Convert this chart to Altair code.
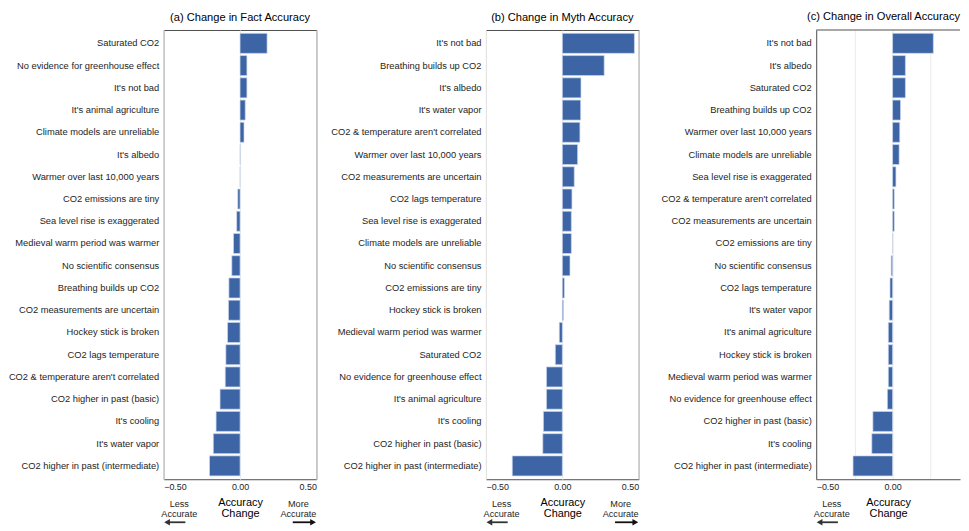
import altair as alt
import pandas as pd

FONT = "Liberation Sans"

# ---------------- data ----------------
fact_cats = [
    "Saturated CO2", "No evidence for greenhouse effect", "It's not bad",
    "It's animal agriculture", "Climate models are unreliable", "It's albedo",
    "Warmer over last 10,000 years", "CO2 emissions are tiny",
    "Sea level rise is exaggerated", "Medieval warm period was warmer",
    "No scientific consensus", "Breathing builds up CO2",
    "CO2 measurements are uncertain", "Hockey stick is broken",
    "CO2 lags temperature", "CO2 & temperature aren't correlated",
    "CO2 higher in past (basic)", "It's cooling", "It's water vapor",
    "CO2 higher in past (intermediate)",
]
fact_vals = [0.177, 0.045, 0.045, 0.034, 0.026, 0.001, 0.000, -0.015, -0.022,
             -0.043, -0.054, -0.073, -0.076, -0.082, -0.093, -0.097, -0.131,
             -0.157, -0.175, -0.200]

myth_cats = [
    "It's not bad", "Breathing builds up CO2", "It's albedo", "It's water vapor",
    "CO2 & temperature aren't correlated", "Warmer over last 10,000 years",
    "CO2 measurements are uncertain", "CO2 lags temperature",
    "Sea level rise is exaggerated", "Climate models are unreliable",
    "No scientific consensus", "CO2 emissions are tiny", "Hockey stick is broken",
    "Medieval warm period was warmer", "Saturated CO2",
    "No evidence for greenhouse effect", "It's animal agriculture", "It's cooling",
    "CO2 higher in past (basic)", "CO2 higher in past (intermediate)",
]
myth_vals = [0.472, 0.274, 0.122, 0.120, 0.115, 0.100, 0.078, 0.063, 0.059,
             0.059, 0.050, 0.013, 0.007, -0.020, -0.046, -0.104, -0.104,
             -0.124, -0.128, -0.328]

overall_cats = [
    "It's not bad", "It's albedo", "Saturated CO2", "Breathing builds up CO2",
    "Warmer over last 10,000 years", "Climate models are unreliable",
    "Sea level rise is exaggerated", "CO2 & temperature aren't correlated",
    "CO2 measurements are uncertain", "CO2 emissions are tiny",
    "No scientific consensus", "CO2 lags temperature", "It's water vapor",
    "It's animal agriculture", "Hockey stick is broken",
    "Medieval warm period was warmer", "No evidence for greenhouse effect",
    "CO2 higher in past (basic)", "It's cooling",
    "CO2 higher in past (intermediate)",
]
overall_vals = [0.267, 0.084, 0.084, 0.052, 0.047, 0.043, 0.022, 0.011, 0.011,
                0.001, -0.009, -0.017, -0.022, -0.028, -0.028, -0.028, -0.034,
                -0.129, -0.136, -0.259]

titles = ["(a) Change in Fact Accuracy", "(b) Change in Myth Accuracy",
          "(c) Change in Overall Accuracy"]
grid_values = [-0.5, -0.375, -0.25, -0.125, 0.0, 0.125, 0.25, 0.375, 0.5]
label_values = [-0.5, 0.0, 0.5]

# ---------------- layout / style ----------------
W = 154            # pixels for a full [-0.5, 0.5] panel
H = 453
BAR = "#3d65a5"
INK = "#1e1e1e"
FRAME = "#4d4d4d"
SMALL = 9.2        # "Less / More Accurate" font size


def panel(title, cats, vals, extent, width=W, cut=False):
    xmax = -0.5 + width / W
    gvals = [v for v in grid_values if v <= xmax + 1e-9]
    df = pd.DataFrame({"category": cats, "change": vals})
    bars = alt.Chart(df).mark_bar(
        color=BAR, stroke="#cdd8ec", strokeWidth=0.7
    ).encode(
        x=alt.X(
            "change:Q",
            scale=alt.Scale(domain=[-0.5, xmax], nice=False),
            axis=alt.Axis(
                values=gvals,
                format=".2f",
                labelExpr="indexof(" + str(label_values) + ", datum.value) >= 0 ? datum.label : ''",
                labelFlush=True,
                ticks=False,
                domain=cut,
                domainColor=FRAME,
                labelFontSize=9,
                labelPadding=3,
                labelColor=INK,
                title=["Accuracy", "Change"],
                titleFontSize=11,
                titleFontWeight="normal",
                titleColor="black",
                titleLineHeight=11.7,
                titlePadding=5,
            ),
        ),
        y=alt.Y(
            "category:N",
            sort=cats,
            scale=alt.Scale(paddingInner=0.1, paddingOuter=0.15),
            axis=alt.Axis(
                title=None,
                ticks=False,
                domain=cut,
                domainColor=FRAME,
                labelFontSize=9.4,
                labelPadding=5,
                labelColor=INK,
                labelLimit=0,
                minExtent=extent,
                maxExtent=extent,
            ),
        ),
        tooltip=["category", "change"],
    )

    blank = alt.Data(values=[{}])
    layers = [bars]
    layers.append(alt.Chart(blank).mark_text(
        text=["Less", "Accurate"], font=FONT, fontSize=SMALL, lineHeight=SMALL,
        baseline="top", align="center", color=INK
    ).encode(x=alt.datum(-0.398), y=alt.value(H + 21.5)))
    layers.append(alt.Chart(blank).mark_rule(color="#333", strokeWidth=1.8).encode(
        x=alt.datum(-0.47), x2=alt.datum(-0.358), y=alt.value(H + 43.4)))
    layers.append(alt.Chart(blank).mark_point(
        shape="triangle-left", filled=True, size=45, color="#333", opacity=1
    ).encode(x=alt.datum(-0.478), y=alt.value(H + 43.4)))
    if not cut:
        layers.append(alt.Chart(blank).mark_text(
            text=["More", "Accurate"], font=FONT, fontSize=SMALL, lineHeight=SMALL,
            baseline="top", align="center", color=INK
        ).encode(x=alt.datum(0.382), y=alt.value(H + 21.5)))
        layers.append(alt.Chart(blank).mark_rule(color="#111", strokeWidth=1.8).encode(
            x=alt.datum(0.345), x2=alt.datum(0.47), y=alt.value(H + 43.4)))
        layers.append(alt.Chart(blank).mark_point(
            shape="triangle-right", filled=True, size=45, color="#111", opacity=1
        ).encode(x=alt.datum(0.478), y=alt.value(H + 43.4)))
    else:
        # top edge of the frame (the right edge lies beyond the page)
        layers.append(alt.Chart(blank).mark_rule(color=FRAME, strokeWidth=1).encode(
            x=alt.value(0), x2=alt.value(width), y=alt.value(0)))

    props = dict(
        width=width,
        height=H,
        title=alt.Title(title, fontSize=11.2, font=FONT, fontWeight="normal",
                        color="black", anchor="middle" if not cut else "end",
                        frame="group", offset=7),
    )
    if cut:
        props["view"] = alt.ViewBackground(stroke="transparent")
    return alt.layer(*layers).properties(**props)


chart = alt.hconcat(
    panel(titles[0], fact_cats, fact_vals, 153),
    panel(titles[1], myth_cats, myth_vals, 169),
    panel(titles[2], overall_cats, overall_vals, 177, width=145, cut=True),
    spacing=0,
).properties(
    padding={"left": 0, "top": 0, "right": 0, "bottom": 0}
).configure_view(
    stroke=FRAME, strokeWidth=1
).configure_axis(
    labelFont=FONT, titleFont=FONT, gridColor="#ebebeb", gridWidth=1
).configure_text(font=FONT)

chart.save("out.html", embed_options={"renderer": "svg", "actions": False})
